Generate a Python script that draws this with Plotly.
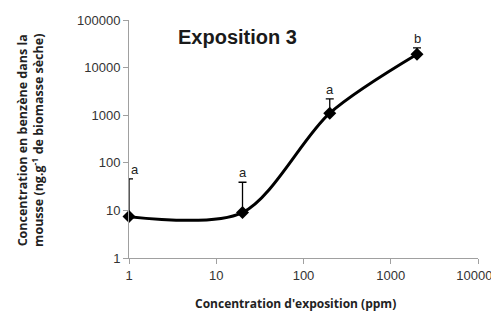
import math
import plotly.graph_objects as go

exposure_ppm = [1, 20, 200, 2000]
benzene_conc = [7.4, 9.0, 1100, 19000]
err_upper = [46, 39, 2200, 26000]
letters = ["a", "a", "a", "b"]
x_ticks = [1, 10, 100, 1000, 10000]
x_tick_labels = ["1", "10", "100", "1000", "10000&nbsp;&nbsp;"]
y_ticks = [1, 10, 100, 1000, 10000, 100000]

fig = go.Figure()
fig.add_trace(go.Scatter(
    x=exposure_ppm, y=benzene_conc, mode="lines+markers",
    line=dict(color="black", width=3, shape="spline", smoothing=0.85),
    marker=dict(symbol="diamond", size=10, color="black"),
    error_y=dict(type="data", symmetric=False,
                 array=[u - v for u, v in zip(err_upper, benzene_conc)],
                 arrayminus=[0] * len(benzene_conc),
                 color="black", thickness=1.3, width=4),
    cliponaxis=False,
    showlegend=False,
))

annotations = []
for i, (xv, top, lab) in enumerate(zip(exposure_ppm, err_upper, letters)):
    annotations.append(dict(
        x=math.log10(xv), y=math.log10(top), xref="x", yref="y",
        text=lab, showarrow=False, yanchor="bottom", yshift=0,
        xshift=6 if i == 0 else 0,
        font=dict(family="Liberation Sans, Arial", size=13, color="#222"),
    ))
annotations.append(dict(
    x=0.135, y=0.93, xref="paper", yref="paper", xanchor="left", yanchor="middle",
    text="<b>Exposition 3</b>", showarrow=False,
    font=dict(family="Liberation Sans, Arial", size=20, color="#1a1a1a"),
))
annotations.append(dict(
    x=0.476, y=-0.19, xref="paper", yref="paper", xanchor="center", yanchor="middle",
    text="<b>Concentration d'exposition (ppm)</b>", showarrow=False,
    font=dict(family="Open Sans, Lato", size=12, color="#222"),
))
annotations.append(dict(
    x=-0.281, y=0.496, xref="paper", yref="paper", xanchor="center", yanchor="middle",
    textangle=-90,
    text="<b>Concentration en benzène dans la<br>mousse (ng.g<sup>-1</sup> de biomasse sèche)</b>",
    showarrow=False,
    font=dict(family="Open Sans, Lato", size=12.5, color="#222"),
))

fig.update_layout(
    width=491, height=312,
    margin=dict(l=121, r=21, t=12, b=62, autoexpand=False),
    paper_bgcolor="white", plot_bgcolor="white",
    annotations=annotations,
    font=dict(family="Liberation Sans, Arial", size=12, color="#333"),
)
fig.update_xaxes(
    type="log", range=[0, 4], tickvals=x_ticks, ticktext=x_tick_labels,
    showgrid=False, zeroline=False, showline=True, linecolor="#a0a0a0", linewidth=1,
    ticks="outside", ticklen=5, tickcolor="#a0a0a0", automargin=False,
    ticklabeloverflow="allow",
    tickfont=dict(family="Liberation Sans, Arial", size=13, color="#333"),
)
fig.update_yaxes(
    type="log", range=[0, 5], tickvals=y_ticks, ticktext=[str(v) for v in y_ticks],
    showgrid=False, zeroline=False, showline=True, linecolor="#a0a0a0", linewidth=1,
    ticks="outside", ticklen=5, tickcolor="#a0a0a0", automargin=False,
    tickfont=dict(family="Liberation Sans, Arial", size=13, color="#333"),
)

fig.write_html("out.html")
